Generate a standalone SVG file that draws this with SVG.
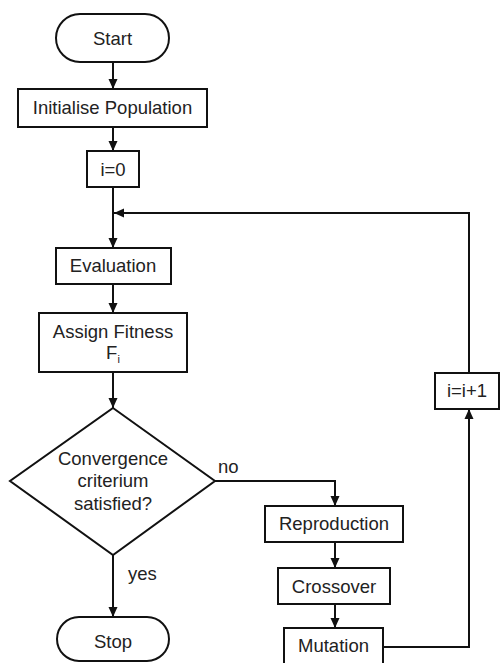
<svg xmlns="http://www.w3.org/2000/svg" width="501" height="663" viewBox="0 0 501 663">
<defs>
<marker id="ah" viewBox="0 0 10 10" refX="10" refY="5" markerWidth="10" markerHeight="10" markerUnits="userSpaceOnUse" orient="auto">
<path d="M0,0.5 L10,5 L0,9.5 Z" fill="#111"/>
</marker>
<style>
.box{fill:#fff;stroke:#111;stroke-width:2}
.t{font-family:"Liberation Sans",Arial,sans-serif;font-size:18.5px;fill:#222;text-anchor:middle}
.lbl{font-family:"Liberation Sans",Arial,sans-serif;font-size:18.5px;fill:#222}
.c{fill:none;stroke:#111;stroke-width:2;marker-end:url(#ah)}
</style>
</defs>
<rect width="501" height="663" fill="#fff"/>
<g id="connectors">
<path class="c" d="M113,62 V89"/>
<path class="c" d="M113,127 V151"/>
<path class="c" d="M113,187 V248"/>
<path class="c" d="M469,373 V213 H114"/>
<path class="c" d="M113,284 V313"/>
<path class="c" d="M113,372 V408"/>
<path class="c" d="M113,555 V617"/>
<path class="c" d="M215,481 H335 V506"/>
<path class="c" d="M335,542 V568"/>
<path class="c" d="M335,604 V628"/>
<path class="c" d="M383,647 H469 V409"/>
<text class="lbl" x="218" y="473">no</text>
<text class="lbl" x="128" y="580">yes</text>
</g>
<g id="start">
<rect class="box" x="56" y="14" width="113" height="48" rx="24"/>
<text class="t" x="112.5" y="45">Start</text>
</g>
<g id="init">
<rect class="box" x="18" y="89" width="189" height="38"/>
<text class="t" x="112.5" y="114">Initialise Population</text>
</g>
<g id="i0">
<rect class="box" x="87" y="151" width="52" height="36"/>
<text class="t" x="113" y="176">i=0</text>
</g>
<g id="evaluation">
<rect class="box" x="56" y="248" width="115" height="36"/>
<text class="t" x="113" y="272">Evaluation</text>
</g>
<g id="assign">
<rect class="box" x="39" y="313" width="148" height="59"/>
<text class="t" x="113" y="338">Assign Fitness</text>
<text class="t" x="113" y="359">F<tspan font-size="11" dy="4">i</tspan></text>
</g>
<g id="decision">
<polygon class="box" points="113,408 215,481 113,555 10,481"/>
<text class="t" x="113" y="465">Convergence</text>
<text class="t" x="113" y="487">criterium</text>
<text class="t" x="113" y="510">satisfied?</text>
</g>
<g id="stop">
<rect class="box" x="57" y="617" width="112" height="44" rx="22"/>
<text class="t" x="113" y="648">Stop</text>
</g>
<g id="reproduction">
<rect class="box" x="265" y="506" width="138" height="36"/>
<text class="t" x="334" y="530">Reproduction</text>
</g>
<g id="crossover">
<rect class="box" x="278" y="568" width="112" height="36"/>
<text class="t" x="334" y="593">Crossover</text>
</g>
<g id="mutation">
<rect class="box" x="284" y="628" width="99" height="40"/>
<text class="t" x="333.5" y="652">Mutation</text>
</g>
<g id="inc">
<rect class="box" x="435" y="373" width="64" height="36"/>
<text class="t" x="467" y="397">i=i+1</text>
</g>
</svg>
